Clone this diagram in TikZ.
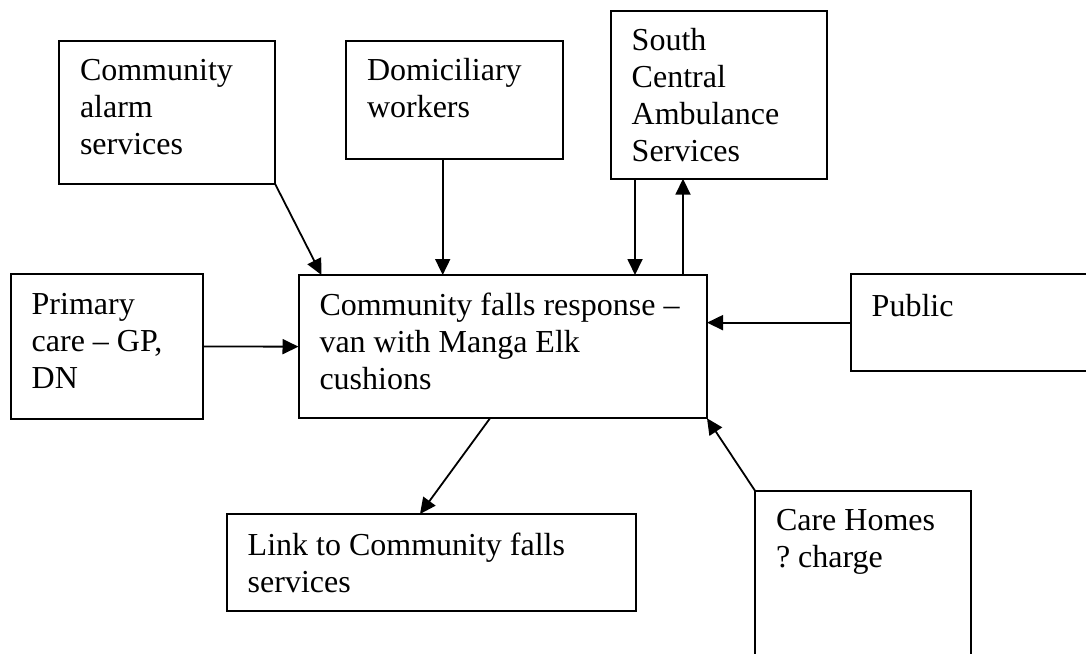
\documentclass[tikz,border=0pt]{standalone}
\usepackage{fontspec}
\setmainfont{Liberation Serif}
\usetikzlibrary{arrows.meta,calc}
\newcommand{\firststrut}{\rule{0pt}{28pt}}
\frenchspacing
\begin{document}
\begin{tikzpicture}[x=1pt,y=-1pt,
  box/.style={draw,line width=2pt,inner sep=0pt,outer sep=0pt,anchor=north west},
  txt/.style={anchor=north west,inner sep=0pt,outer sep=0pt,align=left,font=\fontsize{32}{37}\selectfont},
  arr/.style={line width=1.8pt,-{Triangle[length=16pt,width=15pt]}}]
\useasboundingbox (0,0) rectangle (1086,653);
\clip (0,0) rectangle (1086,653);
% boxes
\node[box,minimum width=216pt,minimum height=143pt] (alarm) at (59,40.7) {};
\node[box,minimum width=217pt,minimum height=118pt] (dom) at (346,40.7) {};
\node[box,minimum width=216pt,minimum height=168pt] (sc) at (610.7,10.7) {};
\node[box,minimum width=192pt,minimum height=145pt] (prim) at (10.7,274) {};
\node[box,minimum width=408.5pt,minimum height=143.3pt] (center) at (298.5,275) {};
\node[box,minimum width=260pt,minimum height=96.7pt] (pub) at (850.7,274.3) {};
\node[box,minimum width=409pt,minimum height=96.7pt] (link) at (226.7,514) {};
\node[box,minimum width=216pt,minimum height=220pt] (care) at (755,490.7) {};
% texts (first baseline about 40px below the box top)
\node[txt] (talarm) at ($(alarm.north west)+(21,11.5)$) {\firststrut Community\\alarm\\services};
\node[txt] (tdom) at ($(dom.north west)+(21,11.5)$) {\firststrut Domiciliary\\workers};
\node[txt] (tsc) at ($(sc.north west)+(21,11.5)$) {\firststrut South\\Central\\Ambulance\\Services};
\node[txt] (tprim) at ($(prim.north west)+(21,12)$) {\firststrut Primary\\care -- GP,\\DN};
\node[txt] (tcenter) at ($(center.north west)+(21,12)$) {\firststrut Community falls response --\\van with Manga Elk\\cushions};
\node[txt] (tpub) at ($(pub.north west)+(21,14)$) {\firststrut Public};
\node[txt] (tlink) at ($(link.north west)+(21,13)$) {\firststrut Link to Community falls\\services};
\node[txt] (tcare) at ($(care.north west)+(21,11.5)$) {\firststrut Care Homes\\? charge};
% connectors
\draw[arr] (alarm.south east) -- ([xshift=23pt]center.north west);
\draw[arr] ([xshift=96.7pt]dom.south west) -- ([xshift=96.7pt]dom.south west |- center.north);
\draw[arr] ([xshift=24.3pt]sc.south west) -- ([xshift=24.3pt]sc.south west |- center.north);
\draw[arr] ([xshift=72.3pt]sc.south west |- center.north) -- ([xshift=72.3pt]sc.south west);
\draw[arr] (pub.west) -- (pub.west -| center.east);
\draw[arr] (care.north west) -- (center.south east);
\draw[arr] ([xshift=191.5pt]center.south west) -- ([xshift=193.3pt]link.north west);
\draw[arr] (prim.east) -- (center.west);
\end{tikzpicture}
\end{document}
